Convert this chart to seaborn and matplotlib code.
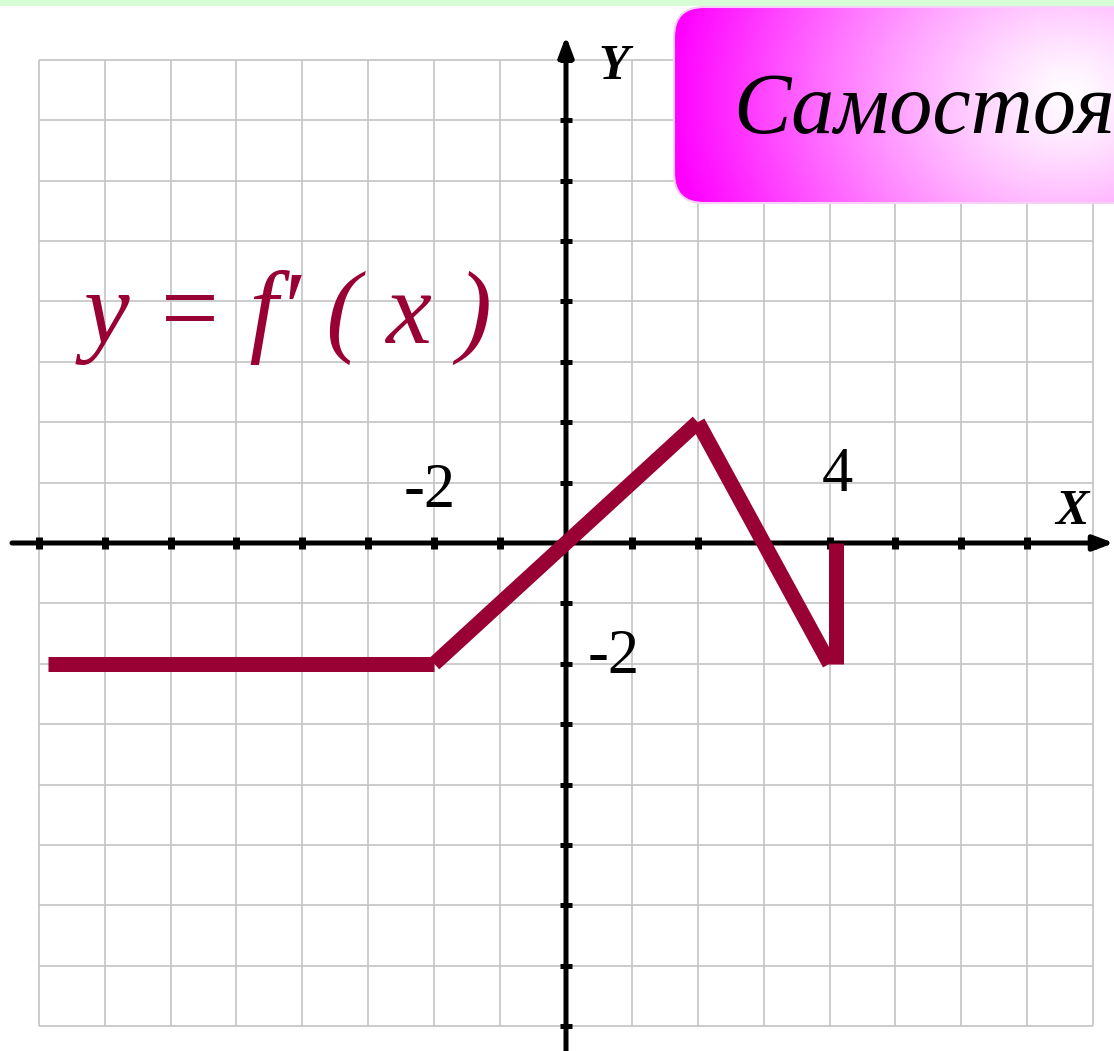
import numpy as np
import pandas as pd
import matplotlib.pyplot as plt
import seaborn as sns
from matplotlib.patches import FancyBboxPatch, Rectangle

# ==================================================
# Data
# ==================================================
seg_id = [0, 0, 1, 1, 2, 2, 3, 3]
seg_x = [-7.86, -2, -2, 2, 2, 4, 4.1, 4.1]
seg_y = [-2, -2, -2, 2, 2, -2, -2, 0]

grid_vals = list(range(-8, 9))
x_ticks = [v for v in grid_vals if v != 0]
y_ticks = [v for v in grid_vals if v != 0]

title_text = "Самостоя"
formula_text = "y = f\u2032 ( x )"

LINE_COLOR = "#990033"
GRID_COLOR = "#c4c4c4"

sns.set_style("white")
plt.rcParams["font.family"] = ["Liberation Serif", "DejaVu Sans"]
plt.rcParams["text.color"] = "black"

W, H = 1114, 1051
fig = plt.figure(figsize=(W / 100, H / 100), dpi=100)

# main axes in data units (origin at pixel 566, 543)
sx, sy = 65.9, 60.4
ax = fig.add_axes([0, 0, 1, 1])
ax.set_xlim(-566 / sx, (W - 566) / sx)
ax.set_ylim(-(H - 543) / sy, 543 / sy)
ax.axis("off")

# grid
ax.vlines(grid_vals, -8, 8, color=GRID_COLOR, lw=1.2, zorder=1)
ax.hlines(grid_vals, -8, 8, color=GRID_COLOR, lw=1.2, zorder=1)

# axes with arrows
x0, x1 = ax.get_xlim()
y0, y1 = ax.get_ylim()
ax.annotate("", xy=(x1, 0), xytext=(x0 + 12 / sx, 0),
            arrowprops=dict(arrowstyle="-|>,head_length=1.2,head_width=0.45",
                            color="black", lw=3.6, shrinkA=0, shrinkB=0),
            zorder=3)
ax.annotate("", xy=(0, y1 - 36 / sy), xytext=(0, y0),
            arrowprops=dict(arrowstyle="-|>,head_length=1.2,head_width=0.45",
                            color="black", lw=3.6, shrinkA=0, shrinkB=0),
            zorder=3)

# tick marks
ax.plot(x_ticks, [0] * len(x_ticks), ls="none", marker="|",
        ms=8, mew=5, color="black", zorder=3)
ax.plot([0] * len(y_ticks), y_ticks, ls="none", marker="_",
        ms=8.6, mew=3.6, color="black", zorder=3)

# function y = f'(x)
df = pd.DataFrame({"seg": seg_id, "x": seg_x, "y": seg_y})
sns.lineplot(data=df, x="x", y="y", units="seg", estimator=None, sort=False,
             color=LINE_COLOR, lw=10.8, solid_capstyle="butt", ax=ax,
             zorder=4, legend=False)
ax.set_xlim(x0, x1)
ax.set_ylim(y0, y1)
ax.axis("off")

# overlay axes in pixel coordinates for the decorations
px = fig.add_axes([0, 0, 1, 1])
px.set_xlim(0, W)
px.set_ylim(H, 0)
px.axis("off")
px.patch.set_visible(False)

px.add_patch(Rectangle((0, 0), W, 6, color="#d6fdd6", lw=0))

# labels
px.text(404, 507, "-2", fontsize=45, va="baseline", ha="left", color="black")
px.text(588, 673, "-2", fontsize=45, va="baseline", ha="left", color="black")
px.text(822, 491, "4", fontsize=45, va="baseline", ha="left", color="black")
px.text(598, 79, "Y", fontsize=36, style="italic", weight="bold",
        va="baseline", ha="left", color="black")
px.text(1055, 524, "X", fontsize=36, style="italic", weight="bold",
        va="baseline", ha="left", color="black")
px.text(84, 343, formula_text, fontsize=74, style="italic", color=LINE_COLOR,
        va="baseline", ha="left")

# pink title box with radial gradient
box = FancyBboxPatch((674, 7), 480, 196,
                     boxstyle="round,pad=0,rounding_size=30",
                     fc="none", ec="#f6d0f6", lw=1.5, zorder=5)
px.add_patch(box)
gx = np.linspace(674, 1154, 240)
gy = np.linspace(7, 203, 100)
GX, GY = np.meshgrid(gx, gy)
r = np.hypot(GX - 1070, (GY - 95) * 1.2)
t = np.clip(r / 400, 0, 1) ** 1.2
img = np.dstack([np.ones_like(t), 1 - t, np.ones_like(t)])
im = px.imshow(img, extent=[674, 1154, 203, 7], aspect="auto",
               interpolation="bilinear", zorder=4)
im.set_clip_path(box)
px.set_xlim(0, W)
px.set_ylim(H, 0)

px.text(733, 133, title_text, fontsize=62, style="italic", color="black",
        va="baseline", ha="left", zorder=6)

fig.savefig("out.png", dpi=100)
